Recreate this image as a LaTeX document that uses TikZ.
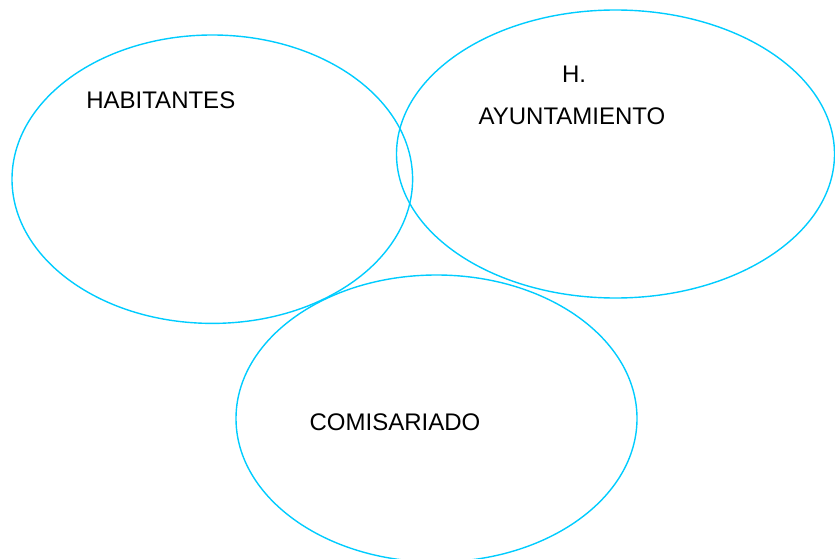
\documentclass[tikz,border=0pt]{standalone}
\usepackage{fontspec}
\setmainfont{Liberation Sans}
\definecolor{ringcyan}{RGB}{0,204,255}
\begin{document}
\begin{tikzpicture}[x=1pt,y=-1pt,
  ring/.style={draw=ringcyan,line width=1.4pt},
  lbl/.style={font=\fontsize{24}{28}\selectfont,anchor=base,inner sep=0pt,text=black}]
\useasboundingbox (0,0) rectangle (835,559);
\begin{scope}
\clip (0,0) rectangle (835,559);
\draw[ring] (212.3,179.2) ellipse [x radius=200.3, y radius=144.2];
\draw[ring] (615.5,154) ellipse [x radius=219, y radius=144];
\draw[ring] (436.5,418.5) ellipse [x radius=200.5, y radius=143.5];
\end{scope}
\node[lbl] (hab) at (160.8,108.3) {HABITANTES};
\node[lbl] (h) at (574,82.3) {H.};
\node[lbl] (ayu) at (572,124.3) {AYUNTAMIENTO};
\node[lbl] (com) at (395,430.7) {COMISARIADO};
\end{tikzpicture}
\end{document}
